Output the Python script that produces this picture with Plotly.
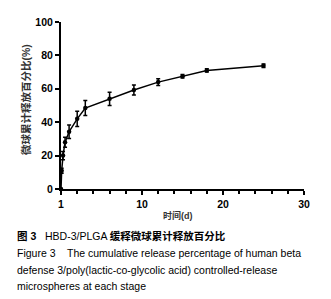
import plotly.graph_objects as go

time_d = [0, 0.083, 0.25, 0.5, 1, 2, 3, 6, 9, 12, 15, 18, 25]
release_pct = [0, 11, 20, 28, 34.3, 42, 48.5, 54, 59.3, 64, 67.5, 71, 73.8]
release_err = [0, 1.5, 2.5, 3, 4, 4.5, 4.5, 4, 3, 2, 1, 1, 1]

x_tickvals = [0, 10, 20, 30]
x_ticktext = ["1", "10", "20", "30"]
y_tickvals = [0, 20, 40, 60, 80, 100]

FONT = "Liberation Sans, Arial, Noto Sans CJK SC, sans-serif"
CJK = "Liberation Sans, Noto Sans CJK SC, sans-serif"

fig = go.Figure()
fig.add_trace(go.Scatter(
    x=time_d, y=release_pct,
    mode="lines+markers",
    line=dict(color="black", width=1.5),
    marker=dict(color="black", size=4.5),
    error_y=dict(type="data", array=release_err, color="black", thickness=1.5, width=2),
    cliponaxis=False,
    showlegend=False,
))

fig.update_layout(
    width=331, height=299,
    margin=dict(l=61, r=27, t=22, b=110),
    paper_bgcolor="white", plot_bgcolor="white",
    font=dict(family=FONT, color="black"),
    xaxis=dict(
        range=[0, 30], tickvals=x_tickvals, ticktext=x_ticktext,
        showgrid=False, zeroline=False, automargin=False,
        showline=True, linecolor="black", linewidth=2,
        ticks="outside", ticklen=4, tickwidth=2, tickcolor="black",
        tickfont=dict(family=FONT, size=10.5, color="black", weight="bold"),
        minor=dict(dtick=2, tick0=0, ticks="outside", ticklen=3, tickwidth=1.5, tickcolor="black"),
    ),
    yaxis=dict(
        range=[0, 100], tickvals=y_tickvals,
        showgrid=False, zeroline=False, automargin=False,
        showline=True, linecolor="black", linewidth=2,
        ticks="outside", ticklen=4, tickwidth=2, tickcolor="black",
        tickfont=dict(family=FONT, size=10.5, color="black", weight="bold"),
    ),
)

fig.add_annotation(text="微球累计释放百分比(%)", xref="paper", yref="paper",
                   x=(26 - 61) / 243, y=(189 - 100) / 167, textangle=-90, showarrow=False,
                   font=dict(family=CJK, size=10.5, color="#333", weight="bold"),
                   xanchor="center", yanchor="middle")
fig.add_annotation(text="时间(d)", xref="paper", yref="paper",
                   x=(178 - 61) / 243, y=(189 - 215) / 167, showarrow=False,
                   font=dict(family=CJK, size=9, color="#333", weight="bold"),
                   xanchor="center", yanchor="middle")

caption = [
    ("<b>图 3</b>   HBD-3/PLGA <b>缓释微球累计释放百分比</b>", 236),
    ("Figure 3    The cumulative release percentage of human beta", 253),
    ("defense 3/poly(lactic-co-glycolic acid) controlled-release", 270),
    ("microspheres at each stage", 286),
]
for txt, ypx in caption:
    fig.add_annotation(text=txt, xref="paper", yref="paper",
                       x=(15 - 61) / 243, y=(189 - ypx) / 167, showarrow=False,
                       font=dict(family=CJK, size=10.5, color="black"),
                       xanchor="left", yanchor="middle", align="left")

fig.write_html("out.html", config={"displayModeBar": False},
               post_script="document.body.style.margin='0';document.body.style.overflow='hidden';")
